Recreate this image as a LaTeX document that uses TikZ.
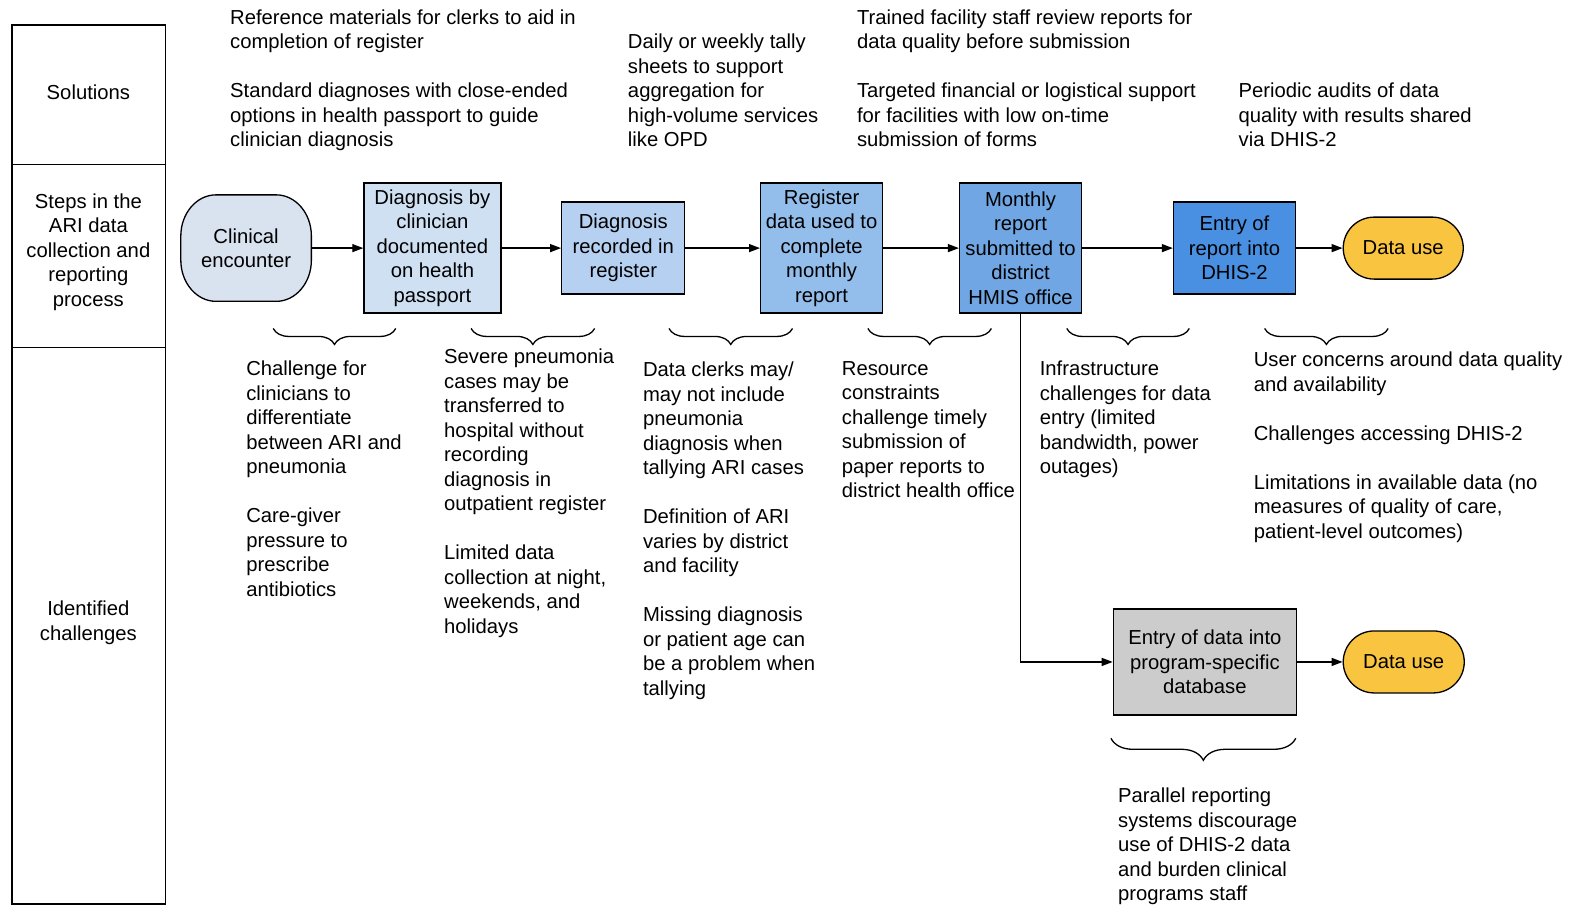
\documentclass[tikz,border=0pt]{standalone}
\usepackage{fontspec}
\setmainfont{Liberation Sans}
\usetikzlibrary{arrows.meta,decorations.pathreplacing}
\newcommand\bodyfont{\fontsize{20.25}{24.5}\selectfont}
\definecolor{encfill}{HTML}{D9E2EF}
\definecolor{sA}{HTML}{CFE0F3}
\definecolor{sB}{HTML}{B5D0F0}
\definecolor{sC}{HTML}{93BDEB}
\definecolor{sD}{HTML}{6FA6E3}
\definecolor{sE}{HTML}{4A90E2}
\definecolor{usefill}{HTML}{F9C440}
\definecolor{grayfill}{HTML}{CCCCCC}
\tikzset{
  box/.style={draw=black, line width=1.3pt, align=center, inner sep=0pt, font=\bodyfont},
  arr/.style={line width=1.3pt, -{Triangle[length=11pt,width=8pt]}},
  txt/.style={anchor=north west, inner sep=0pt, align=left, font=\bodyfont},
  lbl/.style={inner sep=0pt, align=center, font=\bodyfont},
  br/.style={decorate, decoration={brace, mirror, amplitude=16pt}, line width=1.3pt},
  brb/.style={decorate, decoration={brace, mirror, amplitude=22pt}, line width=1.3pt}
}
\begin{document}
\begin{tikzpicture}[x=1.00446pt,y=-1.00446pt]
\useasboundingbox (0,0) rectangle (1568,901);
\fill[white] (0,0) rectangle (1568,901);
% left column
\draw[line width=1.3pt] (12,25) rectangle (165,900);
\draw[line width=1.3pt] (12,164) -- (165,164);
\draw[line width=1.3pt] (12,346) -- (165,346);
\node[lbl] (lsol) at (88,92) {Solutions};
\node[lbl] (lsteps) at (88,251) {Steps in the\\ARI data\\collection and\\reporting\\process};
\node[lbl] (lchal) at (88,620) {Identified\\challenges};

% process nodes
\filldraw[fill=encfill, draw=black, line width=1.3pt]
  (215,194) -- (275,194) .. controls (294.3,194) and (310,212.4) .. (310,235)
  -- (310,259) .. controls (310,281.6) and (294.3,300) .. (275,300)
  -- (215,300) .. controls (195.7,300) and (180,281.6) .. (180,259)
  -- (180,235) .. controls (180,212.4) and (195.7,194) .. (215,194) -- cycle;
\node[box, draw=none, minimum width=130pt, minimum height=106pt] (enc) at (245,247) {Clinical\\encounter};
\node[box, fill=sA, minimum width=137pt, minimum height=130pt] (d1) at (430.5,247) {Diagnosis by\\clinician\\documented\\on health\\passport};
\node[box, fill=sB, minimum width=123pt, minimum height=92pt] (d2) at (620.5,247) {Diagnosis\\recorded in\\register};
\node[box, fill=sC, minimum width=122pt, minimum height=130pt] (d3) at (818,247) {Register\\data used to\\complete\\monthly\\report};
\node[box, fill=sD, minimum width=122pt, minimum height=130pt] (d4) at (1016,247) {Monthly\\report\\submitted to\\district\\HMIS office};
\node[box, fill=sE, minimum width=122pt, minimum height=92pt] (d5) at (1229,247) {Entry of\\report into\\DHIS-2};
\node[box, fill=usefill, rounded corners=31pt, minimum width=120pt, minimum height=62pt] (du1) at (1397,247) {Data use};
\node[box, fill=grayfill, minimum width=183pt, minimum height=106pt] (g) at (1199.5,659) {Entry of data into\\program-specific\\database};
\node[box, fill=usefill, rounded corners=31pt, minimum width=121pt, minimum height=62pt] (du2) at (1397.5,659) {Data use};

% connectors
\draw[arr] (enc) -- (d1);
\draw[arr] (d1) -- (d2);
\draw[arr] (d2) -- (d3);
\draw[arr] (d3) -- (d4);
\draw[arr] (d4) -- (d5);
\draw[arr] (d5) -- (du1);
\draw[arr] (d4.south) |- (g.west);
\draw[arr] (g) -- (du2);

% braces
\coordinate (b1a) at (272,327); \coordinate (b1b) at (394,327);
\coordinate (b2a) at (469,327); \coordinate (b2b) at (592,327);
\coordinate (b3a) at (666,327); \coordinate (b3b) at (789,327);
\coordinate (b4a) at (864,327); \coordinate (b4b) at (987,327);
\coordinate (b5a) at (1062,327); \coordinate (b5b) at (1184,327);
\coordinate (b6a) at (1259,327); \coordinate (b6b) at (1382,327);
\coordinate (b7a) at (1106,735); \coordinate (b7b) at (1290,735);
\draw[br] (b1a) -- (b1b);
\draw[br] (b2a) -- (b2b);
\draw[br] (b3a) -- (b3b);
\draw[br] (b4a) -- (b4b);
\draw[br] (b5a) -- (b5b);
\draw[br] (b6a) -- (b6b);
\draw[brb] (b7a) -- (b7b);

% solutions texts
\node[txt] (s1) at (229,9.5) {Reference materials for clerks to aid in\\completion of register\\[24.5pt]Standard diagnoses with close-ended\\options in health passport to guide\\clinician diagnosis};
\node[txt] (s2) at (625,33.5) {Daily or weekly tally\\sheets to support\\aggregation for\\high-volume services\\like OPD};
\node[txt] (s3) at (853,9.5) {Trained facility staff review reports for\\data quality before submission\\[24.5pt]Targeted financial or logistical support\\for facilities with low on-time\\submission of forms};
\node[txt] (s4) at (1233,82.5) {Periodic audits of data\\quality with results shared\\via DHIS-2};

% challenge texts
\node[txt] (c1) at (245,359.5) {Challenge for\\clinicians to\\differentiate\\between ARI and\\pneumonia\\[24.5pt]Care-giver\\pressure to\\prescribe\\antibiotics};
\node[txt] (c2) at (442,347.5) {Severe pneumonia\\cases may be\\transferred to\\hospital without\\recording\\diagnosis in\\outpatient register\\[24.5pt]Limited data\\collection at night,\\weekends, and\\holidays};
\node[txt] (c3) at (640,360.5) {Data clerks may/\\may not include\\pneumonia\\diagnosis when\\tallying ARI cases\\[24.5pt]Definition of ARI\\varies by district\\and facility\\[24.5pt]Missing diagnosis\\or patient age can\\be a problem when\\tallying};
\node[txt] (c4) at (838,359.5) {Resource\\constraints\\challenge timely\\submission of\\paper reports to\\district health office};
\node[txt] (c5) at (1035,359.5) {Infrastructure\\challenges for data\\entry (limited\\bandwidth, power\\outages)};
\node[txt] (c6) at (1248,350.5) {User concerns around data quality\\and availability\\[24.5pt]Challenges accessing DHIS-2\\[24.5pt]Limitations in available data (no\\measures of quality of care,\\patient-level outcomes)};
\node[txt] (c7) at (1113,784.5) {Parallel reporting\\systems discourage\\use of DHIS-2 data\\and burden clinical\\programs staff};
\end{tikzpicture}
\end{document}
